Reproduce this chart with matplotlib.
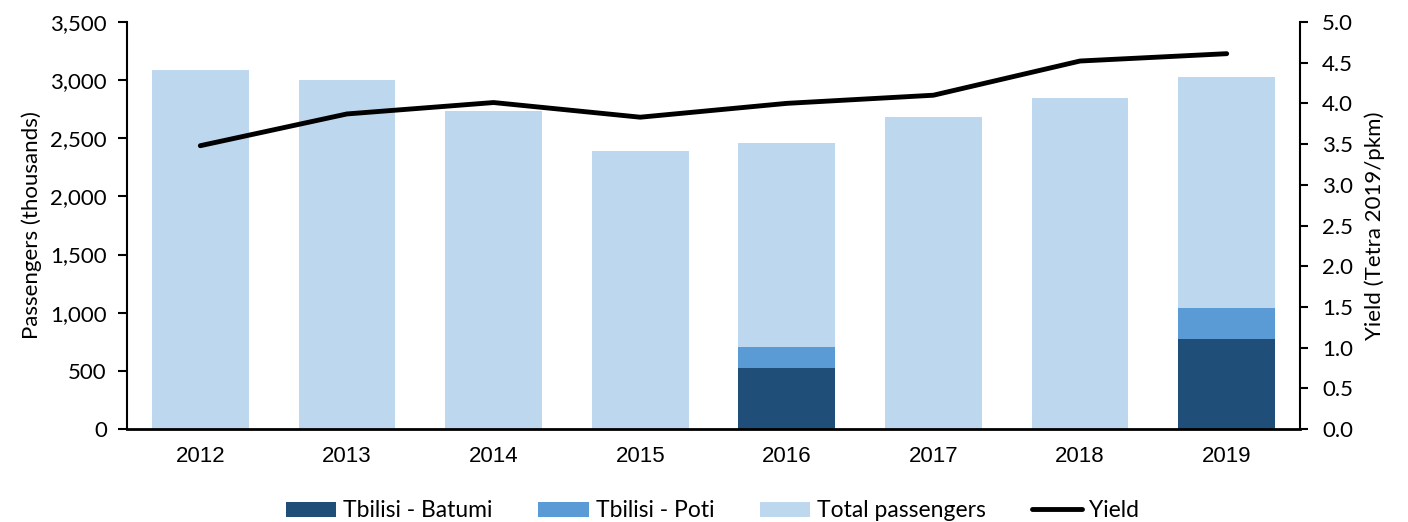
import matplotlib
matplotlib.use("Agg")
import matplotlib.pyplot as plt
import numpy as np
from matplotlib.ticker import FuncFormatter, MultipleLocator

years = ["2012", "2013", "2014", "2015", "2016", "2017", "2018", "2019"]
total_passengers = [3090, 3000, 2735, 2390, 2460, 2685, 2845, 3025]
tbilisi_batumi = [0, 0, 0, 0, 525, 0, 0, 775]
tbilisi_poti = [0, 0, 0, 0, 180, 0, 0, 265]
yield_vals = [3.48, 3.87, 4.01, 3.83, 4.00, 4.10, 4.52, 4.61]

c_dark = "#1F4E79"
c_mid = "#5B9BD5"
c_light = "#BDD7EE"

plt.rcParams['font.family'] = ['Lato', 'DejaVu Sans']
FS = 16
fig = plt.figure(figsize=(14.08, 5.22), dpi=100)
ax = fig.add_axes([0.0902, 0.178, 0.8331, 0.780])
x = np.arange(len(years))
w = 0.66
b0 = ax.bar(x, total_passengers, width=w, color=c_light, label="Total passengers", zorder=1)
b1 = ax.bar(x, tbilisi_batumi, width=w, color=c_dark, label="Tbilisi - Batumi", zorder=2)
b2 = ax.bar(x, tbilisi_poti, width=w, bottom=tbilisi_batumi, color=c_mid, label="Tbilisi - Poti", zorder=2)

ax.set_xlim(-0.5, len(years) - 0.5)
ax.set_ylim(0, 3500)
ax.yaxis.set_major_locator(MultipleLocator(500))
ax.yaxis.set_major_formatter(FuncFormatter(lambda v, p: f"{int(v):,}"))
ax.set_xticks(x)
ax.set_xticklabels(years, fontfamily=['Liberation Sans', 'DejaVu Sans'], fontsize=16)
ax.tick_params(axis='x', length=0, pad=12)
ax.tick_params(axis='y', length=6.5, width=1.5, labelsize=FS, direction='out', pad=8)
ax.set_ylabel("Passengers (thousands)", fontsize=FS, labelpad=6)
for s in ["top", "right"]:
    ax.spines[s].set_visible(False)
ax.spines["left"].set_linewidth(1.5)
ax.spines["bottom"].set_linewidth(2)

ax2 = ax.twinx()
l1, = ax2.plot(x, yield_vals, color="black", linewidth=3.5, solid_capstyle='round', label="Yield")
ax2.set_ylim(0, 5.0)
ax2.yaxis.set_major_locator(MultipleLocator(0.5))
ax2.yaxis.set_major_formatter(FuncFormatter(lambda v, p: f"{v:.1f}"))
ax2.tick_params(axis='y', length=6, width=1.5, labelsize=FS, direction='out', pad=10)
ax2.set_ylabel("Yield (Tetra 2019/pkm)", fontsize=FS, labelpad=8)
for s in ["top", "left", "bottom"]:
    ax2.spines[s].set_visible(False)
ax2.spines["right"].set_linewidth(1.5)

fig.legend([b1, b2, b0, l1], ["Tbilisi - Batumi", "Tbilisi - Poti", "Total passengers", "Yield"],
           loc="lower center", bbox_to_anchor=(0.506, -0.038), ncol=4, frameon=False,
           fontsize=16.5, handlelength=2.2, handleheight=0.65, columnspacing=2.0, handletextpad=0.3)

fig.savefig("out.png", dpi=100)
